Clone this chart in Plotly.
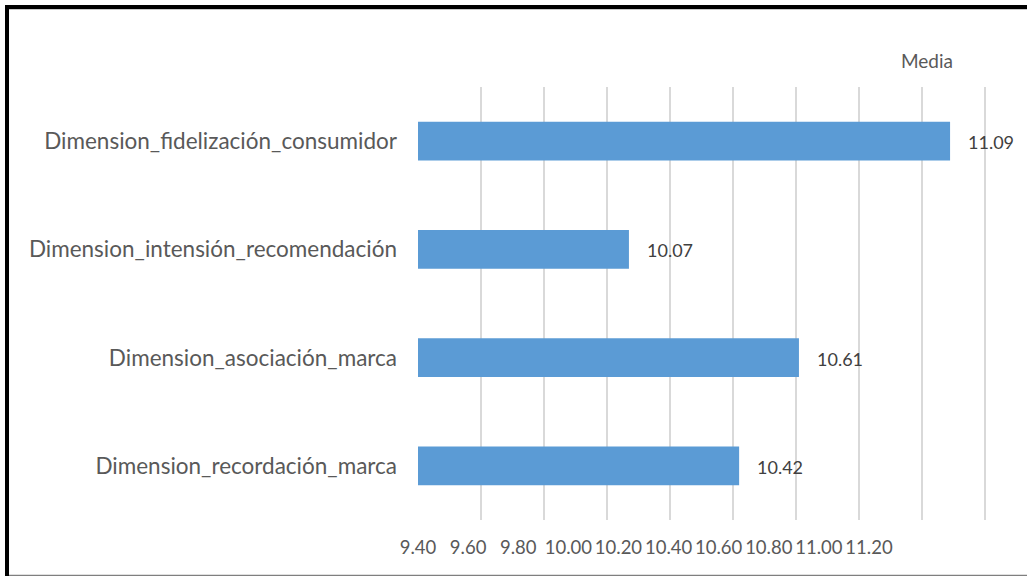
import plotly.graph_objects as go

# Mean score for each dimension (top to bottom)
categories = [
    "Dimension_fidelización_consumidor",
    "Dimension_intensión_recomendación",
    "Dimension_asociación_marca",
    "Dimension_recordación_marca",
]
media = [11.09, 10.07, 10.61, 10.42]

tick_values = [9.40, 9.60, 9.80, 10.00, 10.20, 10.40, 10.60, 10.80, 11.00, 11.20]
tick_labels = ["9.40", "9.60", "9.80", "10.00", "10.20", "10.40",
               "10.60", "10.80", "11.00", "11.20"]

W, H = 1027, 576
X_MIN, X_MAX = 9.4, 11.22
L, R, T, B = 418, 36, 87, 56
PW, PH = W - L - R, H - T - B

FONT = "Lato"
BAR_COLOR = "#5B9BD5"
TEXT = "#595959"
VALUE_TEXT = "#404040"
GRID = "#D9D9D9"


def px_x(px):
    return (px - L) / PW


def px_y(py):
    return (H - B - py) / PH


fig = go.Figure()

fig.add_trace(go.Bar(
    x=media, y=categories, orientation="h",
    marker=dict(color=BAR_COLOR, line=dict(width=0)),
    hoverinfo="skip", showlegend=False,
))

# helper trace that carries the labelled value axis
fig.add_trace(go.Scatter(
    x=[tick_values[0], tick_values[-1]], y=[categories[0], categories[0]],
    xaxis="x2", yaxis="y", mode="markers",
    marker=dict(opacity=0), hoverinfo="skip", showlegend=False,
))

for cat, v in zip(categories, media):
    fig.add_annotation(
        x=v, y=cat, xref="x", yref="y", text=f"{v:.2f}",
        showarrow=False, xanchor="left", yanchor="middle", xshift=16, yshift=-1,
        font=dict(family=FONT, size=18, color=VALUE_TEXT),
    )

frame = [
    dict(x0=px_x(9), x1=px_x(W + 5), y0=px_y(9.5), y1=px_y(9.5), color="#C8C8C8", width=1),
    dict(x0=px_x(5), x1=px_x(W + 5), y0=px_y(7), y1=px_y(7), color="black", width=4),
    dict(x0=px_x(7), x1=px_x(7), y0=px_y(5), y1=px_y(H + 5), color="black", width=4),
    dict(x0=px_x(9), x1=px_x(W + 5), y0=px_y(575.5), y1=px_y(575.5), color="#7F7F7F", width=1.5),
]
for s in frame:
    fig.add_shape(type="line", xref="paper", yref="paper",
                  x0=s["x0"], x1=s["x1"], y0=s["y0"], y1=s["y1"],
                  line=dict(color=s["color"], width=s["width"]), layer="above")

fig.update_layout(
    width=W, height=H,
    margin=dict(l=L, r=R, t=T, b=B),
    paper_bgcolor="white", plot_bgcolor="rgba(0,0,0,0)",
    bargap=0.64,
    font=dict(family=FONT, color=TEXT),
    title=dict(
        text="Media", x=927 / W, y=1 - 61 / H, xref="container", yref="container",
        xanchor="center", yanchor="middle",
        font=dict(family=FONT, size=19, color=TEXT),
    ),
    xaxis=dict(
        range=[X_MIN, X_MAX], tickmode="array", tickvals=tick_values[1:],
        showticklabels=False, showgrid=True, gridcolor=GRID, gridwidth=2,
        zeroline=False, showline=False, ticks="", fixedrange=True,
    ),
    xaxis2=dict(
        range=[tick_values[0], tick_values[-1]], domain=[0, (869 - L) / PW], anchor="y",
        tickmode="array", tickvals=tick_values, ticktext=tick_labels,
        showgrid=False, zeroline=False, showline=False, ticks="",
        tickfont=dict(family=FONT, size=18.5, color=TEXT),
        ticklabelstandoff=14,
    ),
    yaxis=dict(
        autorange="reversed", showgrid=False, zeroline=False, showline=False,
        ticks="", tickfont=dict(family=FONT, size=22.5, color=TEXT),
        ticklabelstandoff=20,
    ),
)

fig.write_html("out.html")
